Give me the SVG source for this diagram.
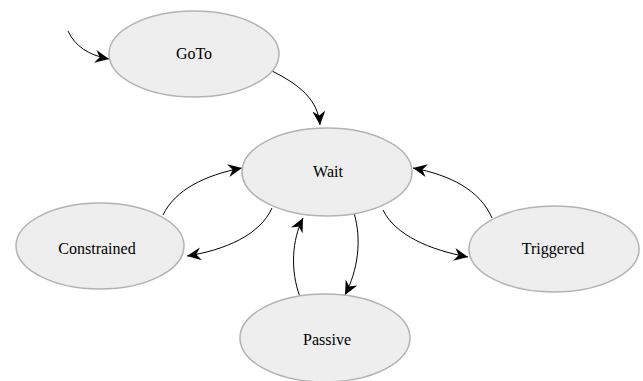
<svg xmlns="http://www.w3.org/2000/svg" width="643" height="381" viewBox="0 0 643 381">
<style>
.node ellipse{fill:#eeeeee;stroke:#b3b3b3;stroke-width:1.5}
.node text{font-family:"Liberation Serif","Times New Roman","DejaVu Serif",serif;font-size:16px;fill:#000;text-anchor:middle}
.edges path{fill:none;stroke:#000;stroke-width:1;marker-end:url(#arr)}
</style>
<defs>
<marker id="arr" markerUnits="userSpaceOnUse" markerWidth="15" markerHeight="13" viewBox="0 0 15 13" refX="14" refY="6.5" orient="auto">
<path d="M0,0 L14,6.5 L0,13 L4.5,6.5 z" fill="#000"/>
</marker>
</defs>
<rect width="643" height="381" fill="#ffffff"/>
<g class="edges">
<path d="M68,31 C 75,46 88,55 109,59"/>
<path d="M272,71 C 300,85 318,100 320,125"/>
<path d="M163,215 C 175,190 205,175 242,168"/>
<path d="M272,208 C 260,235 225,250 187,256"/>
<path d="M300,297 C 290,270 292,240 303,218"/>
<path d="M354,213 C 362,240 358,270 345,295"/>
<path d="M383,210 C 395,235 430,250 468,257"/>
<path d="M492,218 C 480,190 450,175 413,168"/>
</g>
<g id="goto" class="node"><ellipse cx="194" cy="54" rx="85" ry="43"/><text x="194" y="58.5">GoTo</text></g>
<g id="wait" class="node"><ellipse cx="327" cy="172" rx="85" ry="44"/><text x="328" y="177">Wait</text></g>
<g id="constrained" class="node"><ellipse cx="100" cy="246" rx="84" ry="43"/><text x="97" y="254">Constrained</text></g>
<g id="triggered" class="node"><ellipse cx="554" cy="249" rx="85" ry="43"/><text x="553" y="254">Triggered</text></g>
<g id="passive" class="node"><ellipse cx="325" cy="338" rx="85" ry="44"/><text x="327" y="345">Passive</text></g>
</svg>
